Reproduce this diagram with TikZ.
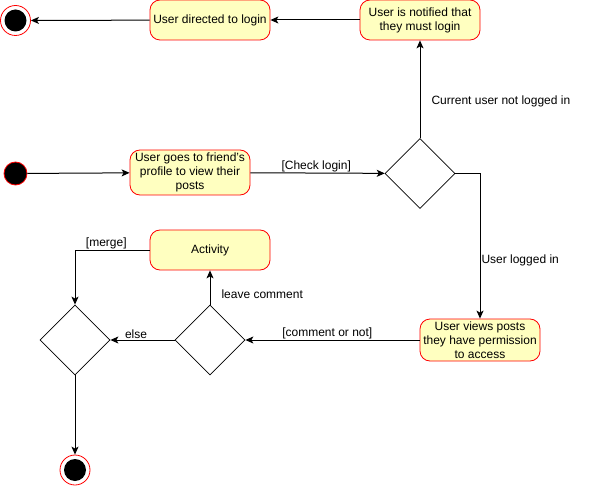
\documentclass[tikz,border=0pt]{standalone}
\usepackage{fontspec}
\setmainfont{Liberation Sans}
\usepackage{tikz}
\usetikzlibrary{positioning, shapes.geometric, arrows.meta}
\definecolor{actfill}{HTML}{FFFFC0}
\tikzstyle{arrow} = [line width=1pt,->,>={Stealth[length=8pt,width=7pt,inset=2pt]}]
\tikzstyle{act} = [rectangle, rounded corners=10pt, draw=red, fill=actfill, line width=0.8pt, minimum width=120pt, minimum height=40pt, align=center, inner sep=0pt, font=\fontsize{12}{14}\selectfont]
\tikzstyle{choice} = [diamond, draw, line width=0.8pt, minimum size=70pt, inner sep=0pt, aspect=1]
\tikzstyle{lbl} = [font=\fontsize{12}{14}\selectfont, inner sep=1pt]

\begin{document}
\begin{tikzpicture}[x=1pt, y=-1pt]
  \useasboundingbox (0,0) rectangle (591,486);

  % Start and end points
  \node[circle, draw=red, fill=black, line width=0.8pt, minimum size=23pt, inner sep=0pt] (start) at (15.5,173.5) {};
  \node[circle, draw=red, fill=white, line width=0.8pt, minimum size=30pt, inner sep=0pt,
        path picture={\fill[black] (path picture bounding box.center) circle (11pt);}] (end1) at (15.5,20.5) {};
  \node[circle, draw=red, fill=white, line width=0.8pt, minimum size=30pt, inner sep=0pt,
        path picture={\fill[black] (path picture bounding box.center) circle (11pt);}] (end2) at (75,470) {};

  % Activities
  \node[act] (login) at (210,20) {User directed to login};
  \node[act] (notify) at (420,20) {User is notified that\\they must login};
  \node[act, minimum height=45pt] (goes) at (190,172.5) {User goes to friend's\\profile to view their\\posts};
  \node[act, minimum height=42pt] (views) at (480,340) {User views posts\\they have permission\\to access};
  \node[act] (activity) at (210,250) {Activity};

  % Decisions
  \node[choice] (check) at (420,173.5) {};
  \node[choice] (comment) at (210,340) {};
  \node[choice] (merge) at (75,340) {};

  % Flow
  \draw[arrow] (start) -- (goes);
  \draw[arrow] (goes) -- node[lbl, above, pos=0.49] {[Check login]} (check);
  \draw[arrow] (check.north) -- node[lbl, right, pos=0.38, xshift=10pt] {Current user not logged in} (notify.south);
  \draw[arrow] (notify) -- (login);
  \draw[arrow] (login) -- (end1);
  \draw[arrow] (check.east) -| node[lbl, right, pos=0.8] {User logged in} (views.north);
  \draw[arrow] (views) -- node[lbl, above, pos=0.53] {[comment or not]} (comment.east);
  \draw[arrow] (comment.north) -- node[lbl, right, pos=0.3, xshift=10pt] {leave comment} (activity.south);
  \draw[arrow] (comment.west) -- node[lbl, above, pos=0.6] {else} (merge.east);
  \draw[arrow] (activity.west) -| node[lbl, above, pos=0.29] {[merge]} (merge.north);
  \draw[arrow] (merge.south) -- (end2);
\end{tikzpicture}
\end{document}
